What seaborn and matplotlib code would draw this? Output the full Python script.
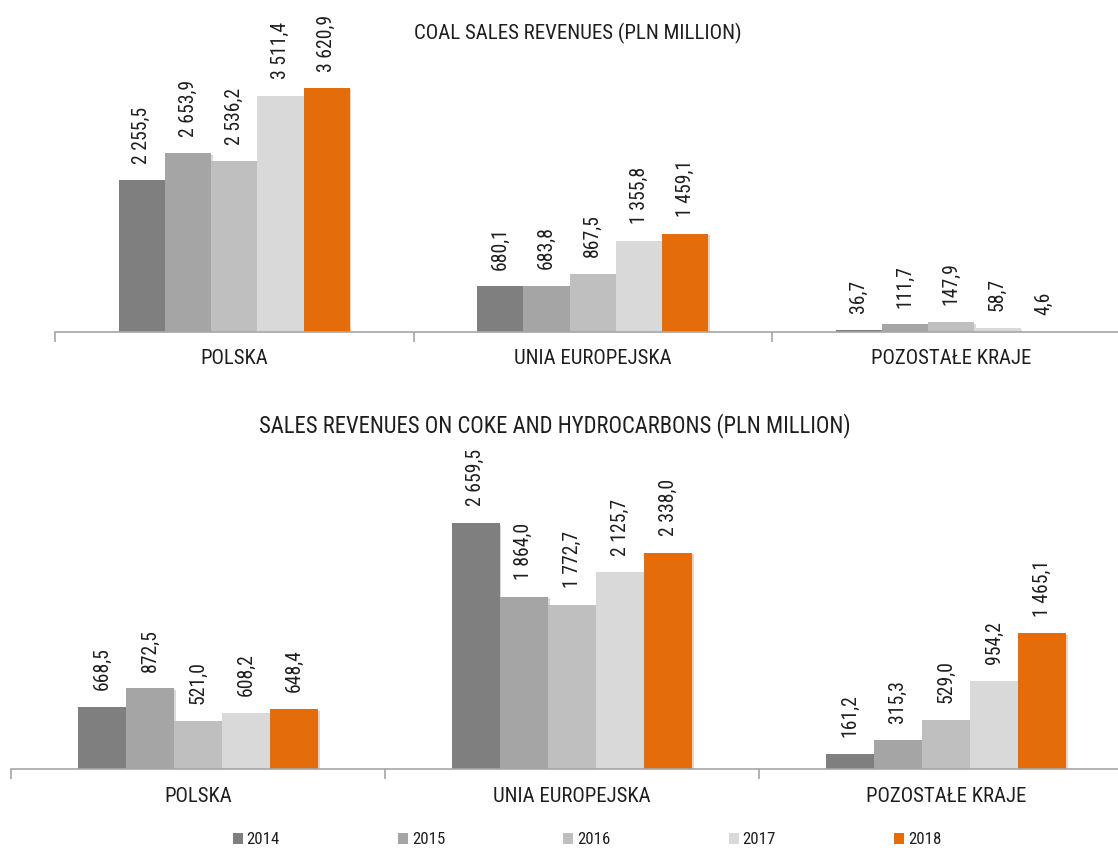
import matplotlib
matplotlib.use("Agg")
import matplotlib.pyplot as plt
import matplotlib.transforms as mtransforms
import matplotlib.patheffects as pe
from matplotlib import font_manager as fm
from matplotlib.font_manager import FontProperties
from matplotlib.patches import Patch
import seaborn as sns
import pandas as pd

# ---- data ----
regions = ["POLSKA", "UNIA EUROPEJSKA", "POZOSTAŁE KRAJE"]
years = ["2014", "2015", "2016", "2017", "2018"]

coal_polska = [2255.5, 2653.9, 2536.2, 3511.4, 3620.9]
coal_ue = [680.1, 683.8, 867.5, 1355.8, 1459.1]
coal_other = [36.7, 111.7, 147.9, 58.7, 4.6]

coke_polska = [668.5, 872.5, 521.0, 608.2, 648.4]
coke_ue = [2659.5, 1864.0, 1772.7, 2125.7, 2338.0]
coke_other = [161.2, 315.3, 529.0, 954.2, 1465.1]

title_coal = "COAL SALES REVENUES (PLN MILLION)"
title_coke = "SALES REVENUES ON COKE AND HYDROCARBONS (PLN MILLION)"

colors = ["#7f7f7f", "#a5a5a5", "#bfbfbf", "#d9d9d9", "#e46c0a"]

sns.set_theme(style="white")

# ---- pick a narrow font if one is installed ----
ttf = fm.fontManager.ttflist
names = {f.name for f in ttf}
chosen, stretch = None, "normal"
for n in ["Liberation Sans Narrow", "Arial Narrow", "Roboto Condensed",
          "Open Sans Condensed", "Noto Sans Condensed", "Noto Sans ExtraCondensed"]:
    if n in names:
        chosen = n
        break
if chosen is None:
    for n in names:
        if ("Narrow" in n or "Condensed" in n) and "Mono" not in n and "Serif" not in n:
            chosen = n
            break
if chosen is None:
    for fam in ["Liberation Sans", "Noto Sans", "Open Sans", "Roboto", "DejaVu Sans"]:
        for f in ttf:
            if f.name == fam and f.stretch in ("condensed", "semi-condensed", "extra-condensed") \
                    and f.style == "normal":
                chosen, stretch = fam, f.stretch
                break
        if chosen:
            break
if chosen is None:
    chosen = "Liberation Sans"

plt.rcParams["font.family"] = [chosen, "DejaVu Sans"]
plt.rcParams["font.stretch"] = stretch
TXT = "#1e1e1e"
AX = "#a6a6a6"

W, H = 1118, 848
fig = plt.figure(figsize=(W / 100, H / 100), dpi=100)
r = fig.canvas.get_renderer()


def size_for(text, target_px, base=15.0):
    probe = fig.text(0, 0, text, fontsize=base, fontstretch=stretch)
    w = probe.get_window_extent(r).width
    probe.remove()
    return base * target_px / w


FS_T1 = size_for(title_coal, 329)
FS_T2 = size_for(title_coke, 594)
FS_LAB = size_for("2 255,5", 57)
FS_CAT = size_for("POLSKA", 68)
LFS = size_for("2014", 33)


def make_df(series):
    rows = []
    for reg, vals in zip(regions, series):
        for y, v in zip(years, vals):
            rows.append({"region": reg, "year": y, "value": v})
    return pd.DataFrame(rows)


def fmt(v):
    return f"{v:,.1f}".replace(",", " ").replace(".", ",")


palette = dict(zip(years, colors))


def draw(ax, df, ymax):
    sns.barplot(data=df, x="region", y="value", hue="year", hue_order=years,
                order=regions, palette=palette, width=0.644, ax=ax,
                errorbar=None, saturation=1, linewidth=0)
    ax.set_ylim(0, ymax)
    ax.set_xlim(-0.5, 2.5)
    for c in ax.containers:
        for b in c:
            b.set_path_effects([pe.SimplePatchShadow(offset=(1.2, -1.2), alpha=0.18),
                                pe.Normal()])
        ax.bar_label(c, labels=[fmt(b.get_height()) for b in c], padding=12,
                     rotation=90, fontsize=FS_LAB, color=TXT, fontstretch=stretch)
    if ax.get_legend() is not None:
        ax.get_legend().remove()
    for s in ["left", "top", "right"]:
        ax.spines[s].set_visible(False)
    ax.spines["bottom"].set_color(AX)
    ax.spines["bottom"].set_linewidth(1.2)
    ax.set_yticks([])
    ax.set_xticks([-0.5, 0.5, 1.5, 2.5])
    ax.set_xticklabels([])
    ax.tick_params(axis="x", bottom=True, length=7, width=1.2, color=AX, direction="out")
    ax.set_xlabel("")
    ax.set_ylabel("")
    off = mtransforms.ScaledTranslation(0, -27 / 100, fig.dpi_scale_trans)
    for i, reg in enumerate(regions):
        ax.text(i, 0, reg, transform=ax.get_xaxis_transform() + off,
                ha="center", va="center", fontsize=FS_CAT, color=TXT, fontstretch=stretch)


ax1 = fig.add_axes([55 / W, (H - 332) / H, (1130.5 - 55) / W, (332 - 40) / H])
draw(ax1, make_df([coal_polska, coal_ue, coal_other]), (332 - 40) / 0.0673)

ax2 = fig.add_axes([11 / W, (H - 769) / H, 1122 / W, (769 - 450) / H])
draw(ax2, make_df([coke_polska, coke_ue, coke_other]), (769 - 450) / 0.0925)

fig.text(578 / W, 1 - 33 / H, title_coal, ha="center", va="center", fontsize=FS_T1,
         color=TXT, fontstretch=stretch)
fig.text(555 / W, 1 - 426 / H, title_coke, ha="center", va="center", fontsize=FS_T2,
         color=TXT, fontstretch=stretch)

handles = [Patch(facecolor=c, edgecolor="none") for c in colors]
lprop = FontProperties(family=[chosen, "DejaVu Sans"], stretch=stretch, size=LFS)
em = LFS * 100 / 72
fig.legend(handles, years, loc="center", bbox_to_anchor=(587 / W, 1 - 840 / H),
           ncol=5, frameon=False, prop=lprop, handlelength=10 / em, handleheight=10 / em,
           handletextpad=4 / em, columnspacing=(165 - 10 - 4 - 33) / em,
           borderpad=0, labelcolor=TXT)

fig.savefig("out.png", dpi=100)
